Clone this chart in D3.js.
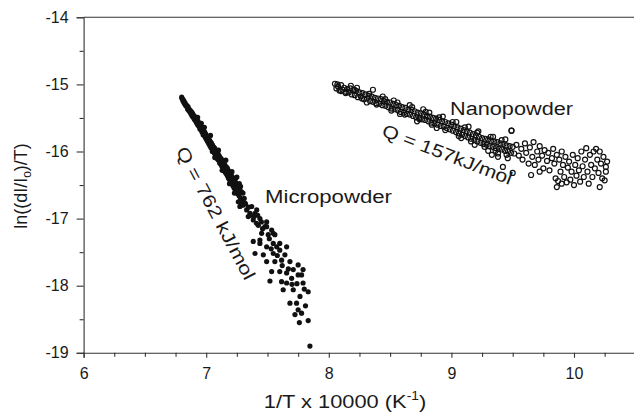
<!DOCTYPE html>
<html><head><meta charset="utf-8">
<script src="https://cdn.jsdelivr.net/npm/d3@7/dist/d3.min.js"></script>
<style>body{margin:0;background:#fff}svg{display:block}text{font-family:"Liberation Sans",Arial,sans-serif;fill:#1a1a1a}</style>
</head><body><svg id="c" width="634" height="414"></svg>
<script>
const xDomain=[6,10.5];
const yDomain=[-19,-14];
const xMajorTicks=[6,7,8,9,10];
const xMinorTicks=[6.25,6.5,6.75,7.25,7.5,7.75,8.25,8.5,8.75,9.25,9.5,9.75,10.25];
const yMajorTicks=[-19,-18,-17,-16,-15,-14];
const yMinorTicks=[-18.5,-17.5,-16.5,-15.5,-14.5];
const xTitle="1/T x 10000 (K";
const yTitle="ln((dI/I";
const microLabel="Micropowder";
const nanoLabel="Nanopowder";
const microQ="Q = 762 kJ/mol";
const nanoQ="Q = 157kJ/mol";

const microX=[6.800,6.803,6.808,6.812,6.817,6.821,6.826,6.831,6.835,6.840,6.845,6.849,6.853,6.858,6.862,6.867,6.871,6.876,6.880,6.885,6.889,6.894,6.898,6.903,6.907,6.912,6.916,6.921,6.925,6.930,6.934,6.939,6.943,6.948,6.952,6.957,6.961,6.966,6.970,6.975,6.979,6.984,6.988,6.993,6.997,7.002,7.006,7.011,7.015,7.020,7.024,7.029,7.033,7.038,7.042,7.047,7.051,7.056,7.060,7.065,7.069,7.074,7.078,7.083,7.087,7.092,7.096,7.101,7.105,7.110,7.114,7.119,7.123,7.128,7.132,7.137,7.141,7.146,7.150,7.155,7.159,7.164,7.168,7.173,7.177,7.182,7.186,7.191,7.195,7.200,7.204,7.209,7.213,7.218,7.222,7.227,7.231,7.236,7.240,7.245,7.250,7.256,7.262,7.268,7.274,7.280,7.288,7.296,
6.93,6.985,7.035,7.07,7.10,7.13,7.16,7.19,7.21,7.23,7.25,7.27,7.285,7.30,7.31,7.32,
7.262,7.275,7.316,7.33,7.343,7.357,7.371,7.384,7.398,7.412,7.41,7.425,7.438,7.479,7.493,7.493,7.452,7.506,7.534,7.547,7.56,7.384,7.438,7.438,7.493,7.547,7.60,7.656,7.575,7.398,7.466,7.547,7.60,7.642,7.493,7.56,7.615,7.683,7.75,7.534,7.60,7.656,7.71,7.79,7.52,7.615,7.656,7.697,7.75,7.778,7.79,7.628,7.71,7.832,7.765,7.683,7.737,7.75,7.724,7.778,7.832,7.846,
7.30,7.345,7.36,7.39,7.42,7.45,7.46,7.515,7.53,7.58,7.62,7.67,7.70,7.74,7.80,7.81,7.76,
6.96,7.05,7.09,7.14,7.17,7.20,7.24,7.28];
const microY=[-15.19,-15.21,-15.22,-15.25,-15.24,-15.28,-15.27,-15.31,-15.30,-15.33,-15.32,-15.37,-15.34,-15.39,-15.37,-15.41,-15.39,-15.44,-15.41,-15.47,-15.43,-15.49,-15.46,-15.52,-15.48,-15.54,-15.51,-15.57,-15.53,-15.60,-15.55,-15.62,-15.58,-15.66,-15.60,-15.68,-15.63,-15.71,-15.66,-15.75,-15.68,-15.76,-15.71,-15.79,-15.74,-15.82,-15.77,-15.85,-15.79,-15.88,-15.82,-15.91,-15.85,-15.94,-15.87,-15.96,-15.90,-16.00,-15.93,-16.02,-15.95,-16.05,-15.98,-16.08,-16.01,-16.11,-16.03,-16.13,-16.06,-16.17,-16.09,-16.19,-16.11,-16.22,-16.14,-16.25,-16.16,-16.28,-16.19,-16.31,-16.22,-16.33,-16.25,-16.36,-16.27,-16.40,-16.30,-16.42,-16.33,-16.45,-16.35,-16.48,-16.38,-16.51,-16.41,-16.54,-16.44,-16.57,-16.46,-16.60,-16.50,-16.63,-16.53,-16.66,-16.57,-16.70,-16.60,-16.74,
-15.49,-15.64,-15.76,-16.09,-15.98,-16.28,-16.13,-16.48,-16.30,-16.62,-16.38,-16.48,-16.78,-16.62,-16.70,-16.78,
-16.75,-16.82,-16.77,-16.87,-16.97,-16.92,-16.82,-17.02,-16.92,-16.87,-17.07,-17.10,-17.00,-17.12,-17.05,-17.12,-17.22,-17.24,-17.17,-17.22,-17.24,-17.34,-17.37,-17.32,-17.42,-17.37,-17.37,-17.42,-17.42,-17.52,-17.54,-17.52,-17.47,-17.54,-17.64,-17.64,-17.62,-17.64,-17.69,-17.79,-17.79,-17.81,-17.76,-17.76,-17.93,-17.94,-17.96,-17.89,-17.84,-17.84,-17.96,-18.06,-18.06,-18.09,-18.16,-18.26,-18.26,-18.36,-18.43,-18.41,-18.52,-18.90,
-16.80,-16.83,-16.95,-16.97,-16.95,-17.05,-17.15,-17.30,-17.45,-17.55,-17.70,-17.75,-17.98,-17.97,-18.05,-18.30,-18.55,
-15.58,-16.00,-15.99,-16.27,-16.24,-16.44,-16.40,-16.52];

const nanoX=[8.050,8.062,8.075,8.087,8.100,8.112,8.125,8.137,8.150,8.162,8.175,8.187,8.200,8.212,8.225,8.237,8.250,8.262,8.275,8.287,8.300,8.312,8.325,8.337,8.350,8.362,8.375,8.387,8.400,8.412,8.425,8.437,8.450,8.462,8.475,8.487,8.500,8.512,8.525,8.537,8.550,8.562,8.575,8.587,8.600,8.612,8.625,8.637,8.650,8.662,8.675,8.687,8.700,8.712,8.725,8.737,8.750,8.762,8.775,8.787,8.800,8.812,8.825,8.837,8.850,8.862,8.875,8.887,8.900,8.912,8.925,8.937,8.950,8.962,8.975,8.987,9.000,9.012,9.025,9.037,9.050,9.062,9.075,9.087,9.100,9.112,9.125,9.137,9.150,9.162,9.175,9.187,9.200,9.212,9.225,9.237,9.250,9.262,9.275,9.287,9.300,9.312,9.325,9.337,9.350,9.362,9.375,9.387,9.400,9.412,9.425,9.437,9.450,9.462,9.475,9.487,9.500,9.512,
8.10,8.18,8.23,8.36,8.31,8.44,8.53,8.58,8.66,8.72,8.77,8.82,8.88,8.93,9.04,9.08,9.14,9.19,9.22,9.30,9.34,9.38,9.44,9.49,9.38,9.42,9.50,9.33,9.46,
9.53,9.55,9.57,9.58,9.60,9.61,9.63,9.64,9.66,9.67,9.68,9.70,9.71,9.72,9.74,9.75,9.76,9.78,9.79,9.80,9.82,9.83,9.84,9.85,9.86,9.86,9.87,9.88,9.89,9.90,9.90,9.91,9.92,9.93,9.94,9.95,9.96,9.97,9.98,9.99,10.00,10.01,10.02,10.03,10.04,10.05,10.06,10.07,10.08,10.09,10.10,10.11,10.12,10.13,10.14,10.15,10.16,10.17,10.18,10.19,10.20,10.21,10.21,10.22,10.23,10.24,10.25,10.26,10.27,10.26,9.49,9.65,9.72,
8.07,8.14,8.21,8.27,8.33,8.39,8.46,8.51,8.56,8.62,8.68,8.74,8.79,8.84,8.90,8.95,9.01,9.06,9.11,9.16,9.21,9.27,9.32,9.36,9.41,9.45];
const nanoY=[-14.99,-15.06,-15.03,-15.09,-15.01,-15.08,-15.05,-15.13,-15.07,-15.12,-15.06,-15.15,-15.09,-15.16,-15.10,-15.19,-15.12,-15.18,-15.13,-15.22,-15.15,-15.21,-15.17,-15.25,-15.18,-15.26,-15.20,-15.28,-15.21,-15.29,-15.22,-15.31,-15.25,-15.32,-15.26,-15.34,-15.27,-15.36,-15.29,-15.37,-15.31,-15.38,-15.32,-15.41,-15.34,-15.42,-15.35,-15.44,-15.37,-15.45,-15.38,-15.47,-15.40,-15.49,-15.42,-15.50,-15.43,-15.52,-15.45,-15.53,-15.47,-15.55,-15.48,-15.57,-15.50,-15.58,-15.51,-15.60,-15.53,-15.62,-15.55,-15.63,-15.56,-15.65,-15.58,-15.67,-15.60,-15.69,-15.62,-15.71,-15.64,-15.73,-15.66,-15.75,-15.68,-15.77,-15.70,-15.79,-15.72,-15.81,-15.74,-15.83,-15.76,-15.85,-15.78,-15.87,-15.80,-15.89,-15.81,-15.90,-15.82,-15.92,-15.84,-15.93,-15.85,-15.95,-15.86,-15.96,-15.88,-15.97,-15.89,-15.99,-15.91,-16.00,-15.92,-16.02,-15.93,-16.03,
-15.10,-15.02,-15.05,-15.08,-15.27,-15.18,-15.24,-15.44,-15.31,-15.55,-15.37,-15.42,-15.65,-15.48,-15.56,-15.80,-15.63,-15.90,-15.70,-15.99,-15.78,-16.03,-15.82,-15.69,-16.08,-16.23,-16.32,-16.05,-16.10,
-15.90,-16.06,-15.96,-16.12,-15.88,-16.02,-16.18,-15.94,-16.08,-15.86,-16.20,-16.00,-16.12,-15.92,-16.06,-16.25,-15.98,-16.14,-16.02,-16.28,-16.10,-15.96,-16.18,-16.40,-16.05,-16.53,-16.44,-16.12,-16.30,-16.00,-16.48,-16.20,-16.38,-16.08,-16.46,-16.24,-16.15,-16.42,-16.30,-16.05,-16.50,-16.20,-16.36,-16.10,-16.28,-16.45,-16.00,-16.22,-16.38,-16.12,-15.95,-16.30,-16.48,-16.05,-16.20,-16.38,-16.00,-16.25,-15.96,-16.12,-16.32,-16.00,-16.53,-16.18,-16.40,-16.08,-16.43,-16.23,-16.15,-16.30,-15.69,-16.35,-16.30,
-15.00,-15.11,-15.08,-15.21,-15.14,-15.30,-15.22,-15.39,-15.27,-15.45,-15.34,-15.52,-15.41,-15.60,-15.49,-15.68,-15.56,-15.77,-15.64,-15.85,-15.72,-15.93,-15.78,-15.99,-15.83,-16.05];

const svg=d3.select("#c");
const x=d3.scaleLinear().domain(xDomain).range([83.6,635.3]);
const y=d3.scaleLinear().domain(yDomain).range([352.8,17.3]);
const axisColor="#333";

svg.append("line").attr("x1",x(6)).attr("x2",x(10.5)).attr("y1",y(-14)).attr("y2",y(-14)).attr("stroke",axisColor).attr("stroke-width",1.1);
svg.append("line").attr("x1",x(10.5)).attr("x2",x(10.5)).attr("y1",y(-14)).attr("y2",y(-19)).attr("stroke",axisColor).attr("stroke-width",1.1);

function styleAxis(g){g.selectAll("path.domain").attr("stroke",axisColor).attr("stroke-width",1.1);g.selectAll(".tick line").attr("stroke",axisColor).attr("stroke-width",1.1);g.selectAll("text").attr("font-size",16).attr("fill","#1a1a1a").attr("font-family","Liberation Sans, Arial, sans-serif");}

const gx=svg.append("g").attr("transform",`translate(0,${y(-19)})`);
gx.call(d3.axisBottom(x).tickValues(xMajorTicks).tickSize(5).tickPadding(10).tickFormat(d=>String(d)));
styleAxis(gx);
const gxm=svg.append("g").attr("transform",`translate(0,${y(-19)})`);
gxm.call(d3.axisBottom(x).tickValues(xMinorTicks).tickSize(4).tickFormat(""));
gxm.select("path.domain").remove();styleAxis(gxm);

const gy=svg.append("g").attr("transform",`translate(${x(6)},0)`);
gy.call(d3.axisLeft(y).tickValues(yMajorTicks).tickSize(7).tickPadding(8).tickFormat(d=>String(d)));
styleAxis(gy);
const gym=svg.append("g").attr("transform",`translate(${x(6)},0)`);
gym.call(d3.axisLeft(y).tickValues(yMinorTicks).tickSize(4).tickFormat(""));
gym.select("path.domain").remove();styleAxis(gym);

const micro=microX.map((v,i)=>[v,microY[i]]);
const nano=nanoX.map((v,i)=>[v,nanoY[i]]);
svg.append("g").selectAll("circle").data(nano).join("circle")
  .attr("cx",d=>x(d[0])).attr("cy",d=>y(d[1])).attr("r",2.5)
  .attr("fill","none").attr("stroke","#111").attr("stroke-width",1.2);
svg.append("g").selectAll("circle").data(micro).join("circle")
  .attr("cx",d=>x(d[0])).attr("cy",d=>y(d[1])).attr("r",2.6)
  .attr("fill","#111");

const xt=svg.append("text").attr("transform","translate(345,408) scale(1.15,1)").attr("text-anchor","middle").attr("font-size",19);
xt.append("tspan").text(xTitle);
xt.append("tspan").attr("font-size",12).attr("dy",-8).text("-1");
xt.append("tspan").attr("dy",8).text(")");

const yt=svg.append("text").attr("transform","translate(27,186) rotate(-90)").attr("text-anchor","middle").attr("font-size",18);
yt.append("tspan").text(yTitle);
yt.append("tspan").attr("font-size",12).attr("dy",4).text("o");
yt.append("tspan").attr("dy",-4).text(")/T)");

svg.append("text").attr("x",265).attr("y",203).attr("font-size",18).attr("textLength",127).attr("lengthAdjust","spacingAndGlyphs").text(microLabel);
svg.append("text").attr("x",450).attr("y",115).attr("font-size",18).attr("textLength",123).attr("lengthAdjust","spacingAndGlyphs").text(nanoLabel);
svg.append("text").attr("transform","translate(175.5,150.7) rotate(62)").attr("font-size",18).attr("textLength",148).attr("lengthAdjust","spacingAndGlyphs").text(microQ);
svg.append("text").attr("transform","translate(380.7,135.6) rotate(21)").attr("font-size",18).attr("textLength",138).attr("lengthAdjust","spacingAndGlyphs").text(nanoQ);
</script></body></html>
